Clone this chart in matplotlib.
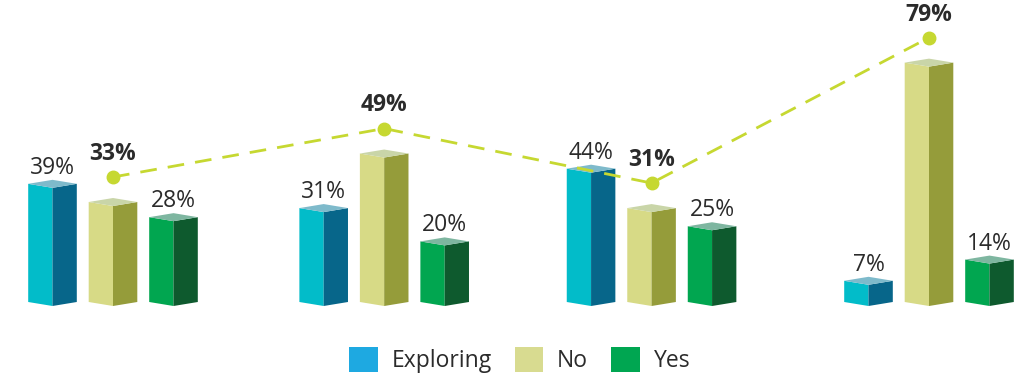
import matplotlib
matplotlib.use("Agg")
import matplotlib.pyplot as plt
from matplotlib.patches import Polygon, Patch
from matplotlib.transforms import ScaledTranslation

# ---- data -------------------------------------------------------------
series = ["Exploring", "No", "Yes"]
exploring = [39, 31, 44, 7]
no = [33, 49, 31, 79]
yes = [28, 20, 25, 14]
values = [exploring, no, yes]

# face colours per series: (front, side, top)
face_colors = [
    ("#02BCC9", "#07668A", "#7EBACB"),
    ("#D7DA86", "#959C3A", "#C9D5A8"),
    ("#01A650", "#0E5A2E", "#7EB6A0"),
]
legend_colors = ["#1EA9E1", "#D8DB90", "#00A651"]
line_color = "#C6D831"
text_color = "#2B2B2B"

plt.rcParams["font.family"] = ["Open Sans", "DejaVu Sans"]

W, H, DPI = 1027, 376, 100
fig = plt.figure(figsize=(W / DPI, H / DPI), dpi=DPI)
ax = fig.add_axes([0, 0, 1, 1])

# layout in data units: groups 1 apart, bars offset within a group
group_step = 272.0           # px per group
px_per_pct = 3.03
x0_px = 113.0                # centre of first group's middle bar
base_px = 302.0
ax.set_xlim(-x0_px / group_step, (W - x0_px) / group_step)
ax.set_ylim(-(H - base_px) / px_per_pct, base_px / px_per_pct)
ax.axis("off")

group_x = [0.0, 0.997, 1.98, 3.0]
bar_off = 60.5 / group_step
half_w = 24.3 / group_step
depth = 4.0 / px_per_pct     # vertical skew of the top / bottom diamonds
fs = 16.5


def draw_bar(xc, v, colors):
    front, side, top = colors
    l, r = xc - half_w, xc + half_w
    left_face = [(l, v), (xc, v - depth), (xc, -depth), (l, 0)]
    right_face = [(xc, v - depth), (r, v), (r, 0), (xc, -depth)]
    top_face = [(l, v), (xc, v + depth), (r, v), (xc, v - depth)]
    ax.add_patch(Polygon(left_face, closed=True, fc=front, ec="none", zorder=2))
    ax.add_patch(Polygon(right_face, closed=True, fc=side, ec="none", zorder=2))
    ax.add_patch(Polygon(top_face, closed=True, fc=top, ec="none", zorder=2))


n_groups = len(exploring)
for s, vals in enumerate(values):
    for g in range(n_groups):
        xc = group_x[g] + (s - 1) * bar_off
        draw_bar(xc, vals[g], face_colors[s])
        if s != 1:
            ax.annotate(f"{vals[g]}%", (xc, vals[g] + depth),
                        xytext=(0, 0), textcoords="offset points",
                        ha="center", va="bottom", fontsize=fs,
                        color=text_color, zorder=4)

# dashed trend of "No" answers, lifted above the bars
lift = ScaledTranslation(0, 0.25, fig.dpi_scale_trans)
ax.plot(group_x, no, color=line_color, lw=2.0, dashes=(6, 4),
        marker="o", markersize=9, transform=ax.transData + lift, zorder=3)
for g in range(n_groups):
    ax.annotate(f"{no[g]}%", (group_x[g], no[g]), xytext=(0, 8),
                textcoords="offset points", ha="center", va="bottom",
                fontsize=fs, fontweight="bold", color=text_color,
                xycoords=ax.transData + lift, zorder=4)

handles = [Patch(facecolor=c, edgecolor="none", label=n)
           for c, n in zip(legend_colors, series)]
fig.legend(handles=handles, loc="center", bbox_to_anchor=(0.506, 0.043),
           ncol=3, frameon=False, fontsize=fs, handlelength=1.25,
           handleheight=1.3, handletextpad=0.6, columnspacing=1.0,
           labelcolor=text_color, borderaxespad=0, borderpad=0)

fig.savefig("out.png", dpi=DPI)
